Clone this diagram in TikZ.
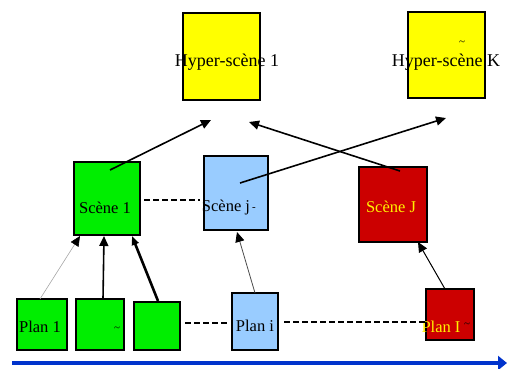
\documentclass[tikz,border=0pt]{standalone}
\usepackage{fontspec}
\setmainfont{Liberation Serif}
\usetikzlibrary{arrows.meta}
\definecolor{hypery}{HTML}{FFFF00}
\definecolor{gr}{HTML}{00EE00}
\definecolor{lb}{HTML}{99CCFF}
\definecolor{rd}{HTML}{CC0000}
\definecolor{axis}{HTML}{0033CC}
\tikzset{
  box/.style={draw=black, line width=2pt, inner sep=0pt},
  lab/.style={font=\fontsize{16.5}{16.5}\selectfont, inner sep=0pt},
  biglab/.style={font=\fontsize{18}{18}\selectfont, inner sep=0pt},
  link/.style={-{Triangle[length=10pt,width=9pt]}, line width=1.6pt},
  dotline/.style={dash pattern=on 6pt off 3pt, line width=2.8pt},
  tiny/.style={font=\fontsize{11}{11}\selectfont, inner sep=0pt}
}
\begin{document}
\begin{tikzpicture}[x=1pt,y=-1pt]
\useasboundingbox (0,0) rectangle (507,369);
% hyper-scenes
\draw[box, fill=hypery] (183,13) rectangle (260,100);
\draw[box, fill=hypery] (408,12) rectangle (485,98);
\node[biglab] (h1t) at (227,62) {Hyper-scène 1};
\node[biglab] (hkt) at (446,62) {Hyper-scène K};
\node[tiny] (hkm) at (462,43) {\textasciitilde};
% scenes
\draw[box, fill=gr] (74,162) rectangle (140,235);
\draw[box, fill=lb] (204,156) rectangle (268,230);
\draw[box, fill=rd] (359,167) rectangle (427,242);
\node[lab] (s1) at (105,208) {Scène 1};
\node[lab] (sj) at (226,208) {Scène j};
\node[tiny] (sjm) at (254,209) {-};
\node[lab, text=yellow] (sJ) at (391,207) {Scène J};
% shots
\draw[box, fill=gr] (17,299) rectangle (67,350);
\draw[box, fill=gr] (76,299) rectangle (124,350);
\draw[box, fill=gr] (134,302) rectangle (180,350);
\draw[box, fill=lb] (232,293) rectangle (278,350);
\draw[box, fill=rd] (426,289) rectangle (474,340);
\node[lab] (p1) at (40,327) {Plan 1};
\node[tiny] (p2m) at (117,329) {\textasciitilde};
\node[lab] (pi) at (255,326) {Plan i};
\node[lab, text=yellow] (pI) at (441,327) {Plan I};
\node[tiny] (pIm) at (467,325) {\textasciitilde};
% anchor points for links
\coordinate (a1) at (110,170); \coordinate (a1e) at (211,120);
\coordinate (a2) at (240,183); \coordinate (a2e) at (446,118);
\coordinate (a3) at (400,171); \coordinate (a3e) at (249,122);
\coordinate (b1) at (40,299);  \coordinate (b1e) at (80,236);
\coordinate (b2) at (103,299); \coordinate (b2e) at (104,236);
\coordinate (b3) at (158,301); \coordinate (b3e) at (132,236);
\coordinate (b4) at (255,293); \coordinate (b4e) at (237,232);
\coordinate (b5) at (445,289); \coordinate (b5e) at (418,242);
\draw[link] (a1) -- (a1e);
\draw[link] (a2) -- (a2e);
\draw[link] (a3) -- (a3e);
\draw[link, line width=0.6pt, draw=gray!70, -{Triangle[length=10pt,width=9pt,color=black]}] (b1) -- (b1e);
\draw[link] (b2) -- (b2e);
\draw[link, line width=2.6pt, -{Triangle[length=9pt,width=7pt]}] (b3) -- (b3e);
\draw[link, line width=0.8pt, draw=black!70, -{Triangle[length=10pt,width=9pt,color=black]}] (b4) -- (b4e);
\draw[link, line width=1pt] (b5) -- (b5e);
% dashed links between siblings
\coordinate (d1) at (144,200); \coordinate (d1e) at (200,200);
\coordinate (d2) at (185,323); \coordinate (d2e) at (229,323);
\coordinate (d3) at (284,322); \coordinate (d3e) at (425,322);
\draw[dotline] (d1) -- (d1e);
\draw[dotline] (d2) -- (d2e);
\draw[dotline] (d3) -- (d3e);
% time axis
\coordinate (t0) at (12,363); \coordinate (t1) at (507,363);
\draw[axis, line width=4.5pt, -{Triangle[length=9pt,width=14pt]}] (t0) -- (t1);
\end{tikzpicture}
\end{document}
